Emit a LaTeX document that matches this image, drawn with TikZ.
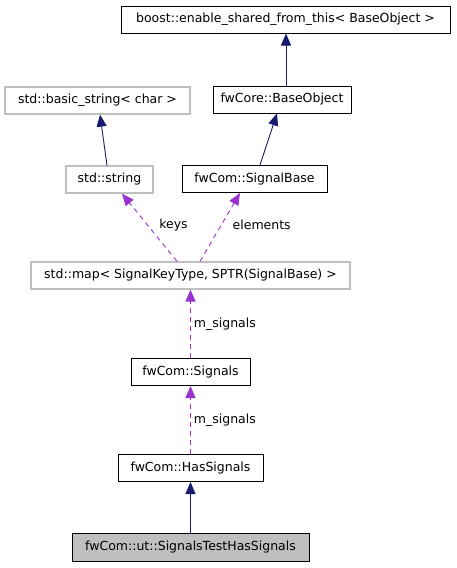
\documentclass[tikz,border=0pt]{standalone}
\usepackage{fontspec}
\setmainfont{DejaVu Sans}
\usetikzlibrary{arrows.meta}
\definecolor{navyedge}{HTML}{191970}
\definecolor{purpedge}{HTML}{9A32CD}
\definecolor{greybox}{HTML}{BFBFBF}
\tikzset{
  cls/.style={draw=black, line width=1pt, fill=white, inner sep=0pt, font=\fontsize{12.5}{14}\selectfont, text=black},
  ext/.style={cls, draw=greybox, line width=1.3pt},
  cur/.style={cls, fill=greybox},
  inh/.style={draw=navyedge, line width=0.9pt, -{Triangle[length=12pt,width=10pt]}},
  use/.style={draw=purpedge, line width=0.9pt, dash pattern=on 5pt off 4pt, -{Triangle[length=12pt,width=10pt]}},
  lbl/.style={font=\fontsize{12.5}{14}\selectfont, text=black, inner sep=1pt}
}
\begin{document}
\begin{tikzpicture}[x=1pt, y=-1pt]
\useasboundingbox (0,0) rectangle (457,568);
% nodes: centre and size
\node[cls, minimum width=329pt, minimum height=27pt] (boost) at (285.5,19.5) {boost::enable\_shared\_from\_this< BaseObject >};
\node[ext, minimum width=185pt, minimum height=27pt] (bstr) at (97.5,100.5) {std::basic\_string< char >};
\node[cls, minimum width=138pt, minimum height=27pt] (base) at (282,99.5) {fwCore::BaseObject};
\node[ext, minimum width=87pt, minimum height=27pt] (str) at (109.5,179.5) {std::string};
\node[cls, minimum width=145pt, minimum height=27pt] (sigbase) at (254.5,179) {fwCom::SignalBase};
\node[ext, minimum width=319pt, minimum height=27pt] (map) at (190.5,275.5) {std::map< SignalKeyType, SPTR(SignalBase) >};
\node[cls, minimum width=119pt, minimum height=27pt] (sigs) at (190.5,372) {fwCom::Signals};
\node[cls, minimum width=145pt, minimum height=27pt] (has) at (190.5,468) {fwCom::HasSignals};
\node[cur, minimum width=237pt, minimum height=28pt] (test) at (190.5,547.5) {fwCom::ut::SignalsTestHasSignals};
% edges
\draw[inh] (base.north -| 286,0) -- (boost.south -| 286,0);
\draw[inh] (sigbase.north -| 260,0) -- (base.south -| 277,0);
\draw[inh] (str.north -| 107,0) -- (bstr.south -| 100,0);
\draw[use] (map.north -| 177,0) -- (str.south -| 122,0) node[lbl, pos=0.53, anchor=west, xshift=10pt] {keys};
\draw[use] (map.north -| 200,0) -- (sigbase.south -| 240,0) node[lbl, pos=0.53, anchor=west, xshift=10pt] {elements};
\draw[use] (sigs.north) -- (map.south) node[lbl, midway, anchor=west, xshift=2pt] {m\_signals};
\draw[use] (has.north) -- (sigs.south) node[lbl, midway, anchor=west, xshift=2pt] {m\_signals};
\draw[inh] (test.north) -- (has.south);
\end{tikzpicture}
\end{document}
